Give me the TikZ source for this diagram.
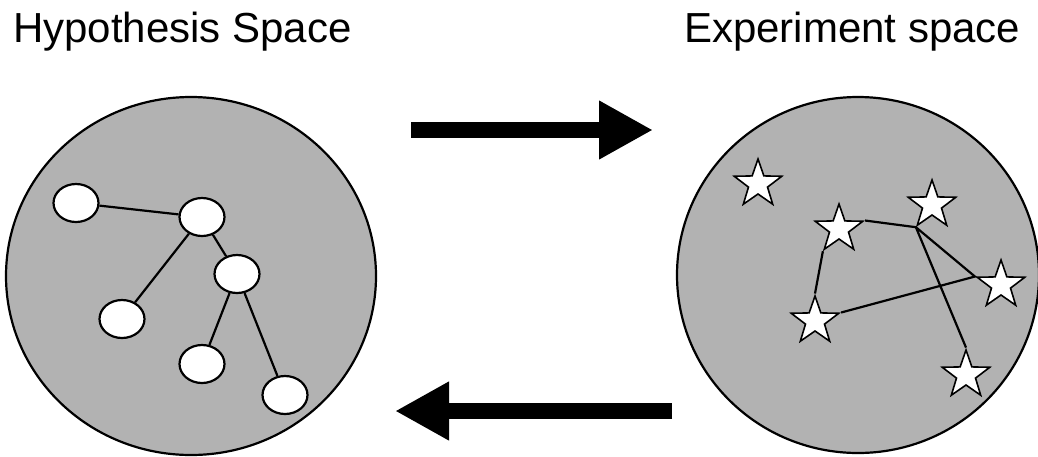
\documentclass[tikz,border=0pt]{standalone}
\usepackage{fontspec}
\setmainfont{Liberation Sans}
\usetikzlibrary{shapes.geometric,arrows.meta}
\definecolor{spacegray}{RGB}{178,178,178}
\begin{document}
\begin{tikzpicture}[x=1pt,y=-1pt,
  space/.style={draw,line width=2.2pt,fill=spacegray},
  hyp/.style={ellipse,draw,fill=white,line width=2.2pt,minimum width=45pt,minimum height=38pt,inner sep=0pt},
  expt/.style={star,star points=5,star point ratio=2.5,draw,fill=white,line width=1.6pt,minimum size=50pt,inner sep=0pt},
  link/.style={line width=2.2pt},
  bigarrow/.style={line width=16pt,-{Triangle[length=54pt,width=55pt]}},
  lbl/.style={font=\fontsize{42}{50}\selectfont,inner sep=0pt,anchor=base west}]
\useasboundingbox(0,0)rectangle(1038,456);
\node[lbl](hyplabel)at(13,42){Hypothesis Space};
\node[lbl](explabel)at(684,42){Experiment space};
\draw[space](191,276)ellipse[x radius=185,y radius=179];
\draw[space](858,275)ellipse[x radius=181,y radius=178];
% hypothesis tree
\node[hyp](h1)at(76,203){};
\node[hyp](h2)at(202,217){};
\node[hyp](h3)at(237,274){};
\node[hyp](h4)at(122,319){};
\node[hyp](h5)at(202,364){};
\node[hyp](h6)at(285,395){};
\draw[link](h1)--(h2) (h2)--(h4) (h2)--(h3) (h3)--(h5) (h3)--(h6);
% experiments
\node[expt](x1)at(758,184){};
\node[expt](x2)at(839,229){};
\node[expt](x3)at(932,205){};
\node[expt](x4)at(1001,285){};
\node[expt](x5)at(815,321){};
\node[expt](x6)at(966,375){};
\draw[link](x2.outer point 5)--(x3.outer point 3)--(x4.outer point 2)--(x5.outer point 5)
  (x2.outer point 3)--(x5.outer point 1) (x3.outer point 3)--(x6.outer point 1);
% arrows
\coordinate(fwdstart)at(411,130);
\coordinate(fwdend)at(653,130);
\coordinate(backstart)at(672,411);
\coordinate(backend)at(395,411);
\draw[bigarrow](fwdstart)--(fwdend);
\draw[bigarrow](backstart)--(backend);
\end{tikzpicture}
\end{document}
